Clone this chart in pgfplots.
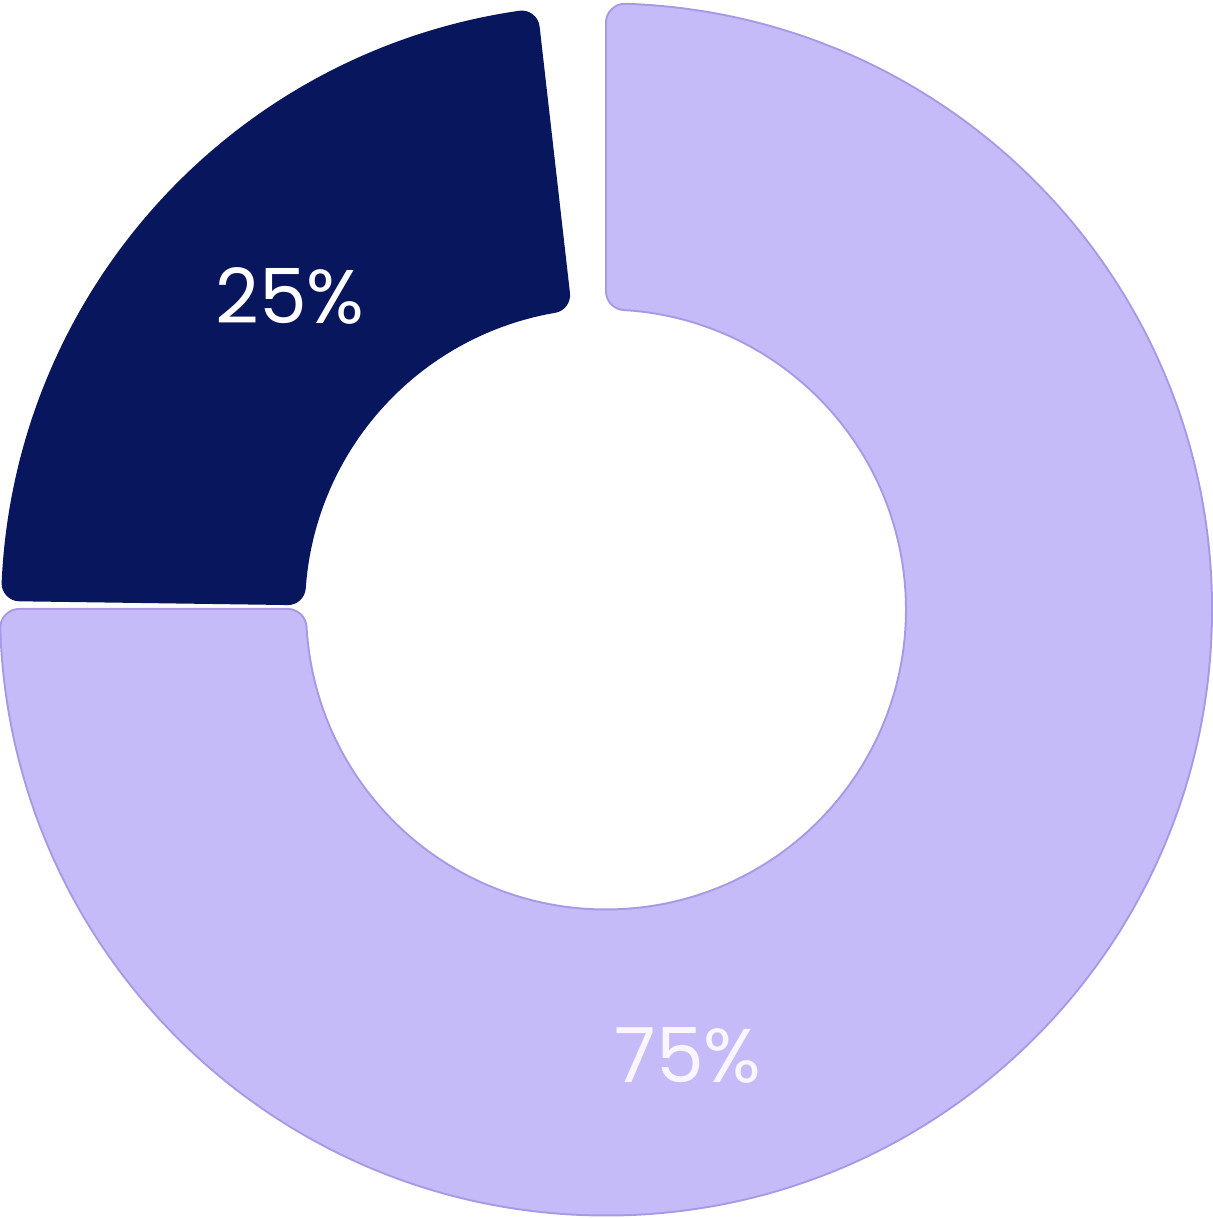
\documentclass[border=0pt]{standalone}
\usepackage{pgfplots}
\pgfplotsset{compat=1.18}
\usepackage{pgfplotstable}
\usepackage{fontspec}
\setmainfont{Poppins}
\definecolor{darkseg}{HTML}{08165E}
\definecolor{lightseg}{HTML}{C5BBF9}
\definecolor{lightedge}{HTML}{A899E6}
\definecolor{lightlabel}{HTML}{FBF5FF}

\pgfplotstableread{
label value
dark 25
light 75
}\shares

% #1 start angle, #2 end angle (clockwise), #3 gap at start (px), #4 gap at end (px), #5 extra half-width (px), #6 style
\newcommand{\seg}[6]{%
  \pgfmathsetmacro\Ro{587}\pgfmathsetmacro\Ri{319}%
  \pgfmathsetmacro\aos{#1-asin((18+#3)/\Ro)}%
  \pgfmathsetmacro\ais{#1-asin((18+#3)/\Ri)}%
  \pgfmathsetmacro\aoe{#2+asin((18+#4)/\Ro)}%
  \pgfmathsetmacro\aie{#2+asin((18+#4)/\Ri)}%
  \pgfmathsetmacro\lw{(36+2*#5)*0.25}%
  \path[#6, line width=\lw pt, line join=round]
    (\aos:\Ro*0.25pt) arc[start angle=\aos, end angle=\aoe, radius=\Ro*0.25pt]
    -- (\aie:\Ri*0.25pt) arc[start angle=\aie, end angle=\ais, radius=\Ri*0.25pt] -- cycle;
}

\begin{document}
\begin{tikzpicture}
\begin{axis}[x=0.25pt, y=0.25pt, xmin=0, xmax=1212, ymin=0, ymax=1218,
  hide axis, clip=false, anchor=origin, at={(0,0)}]
\pgfplotsextra{%
  \pgfplotstablegetelem{0}{value}\of\shares \pgfmathsetmacro\vdark{\pgfplotsretval}%
  \pgfplotstablegetelem{1}{value}\of\shares \pgfmathsetmacro\vlight{\pgfplotsretval}%
  \pgfmathsetmacro\lightS{90}%
  \pgfmathsetmacro\lightE{90-\vlight*3.6}%
  \pgfmathsetmacro\darkS{\lightE+360}%
  \pgfmathsetmacro\darkE{\darkS-\vdark*3.6}%
  \begin{scope}[shift={(axis cs:606,608.5)}]
    \seg{\lightS}{\lightE}{1}{0.5}{2}{fill=lightedge, draw=lightedge}
    \seg{\lightS}{\lightE}{1}{0.5}{0}{fill=lightseg, draw=lightseg}
    \pgfmathsetmacro\dS{\darkS-0.8}\pgfmathsetmacro\dE{\darkE+6.5}%
    \seg{\dS}{\dE}{0}{0}{0}{fill=darkseg, draw=darkseg}
  \end{scope}
}
\node[text=white, font=\fontsize{19}{22}\selectfont] at (axis cs:290,922) {25\%};
\node[text=lightlabel, font=\fontsize{19}{22}\selectfont] at (axis cs:688,163) {75\%};
\end{axis}
\pgfresetboundingbox
\path (0,0) rectangle (303pt,304.5pt);
\end{tikzpicture}
\end{document}
